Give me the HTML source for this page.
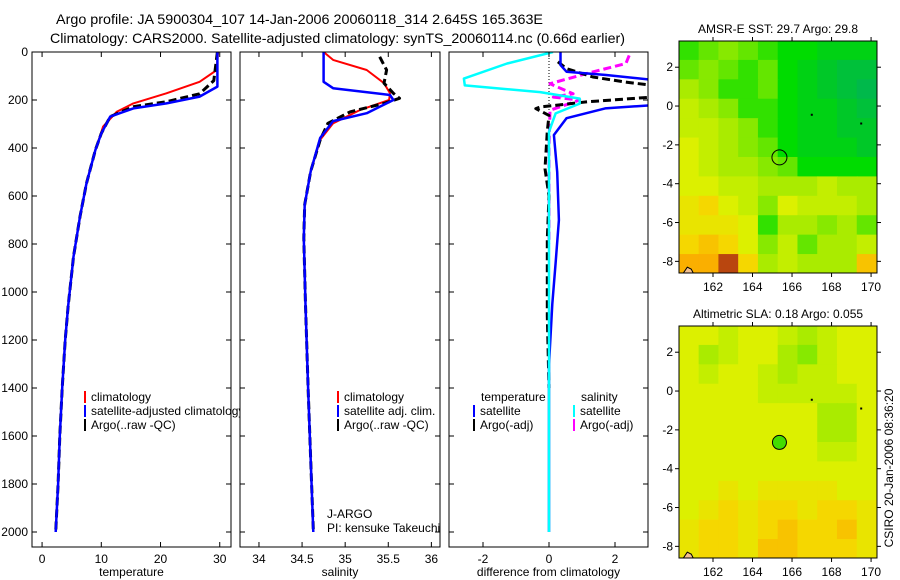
<!DOCTYPE html>
<html><head><meta charset="utf-8"><style>
body{margin:0;background:#fff;}
svg{display:block;font-family:"Liberation Sans",sans-serif;}
</style></head><body>
<svg id="fig" width="900" height="580" xmlns="http://www.w3.org/2000/svg">
<text x="56" y="24" font-size="14" textLength="487" lengthAdjust="spacingAndGlyphs">Argo profile: JA 5900304_107 14-Jan-2006 20060118_314 2.645S 165.363E</text>
<text x="50" y="43" font-size="14" textLength="575" lengthAdjust="spacingAndGlyphs">Climatology: CARS2000. Satellite-adjusted climatology: synTS_20060114.nc (0.66d earlier)</text>
<text transform="translate(893,468) rotate(-90)" font-size="12" text-anchor="middle">CSIRO 20-Jan-2006 08:36:20</text>
<g id="plots"></g>
</svg>
<script>
// ---- profile data (depth in m) ----
const tDepthClim=[0,75,124,172,214,249,311,408,547,686,853,1061,1200,1400,1600,1800,2000];
const tClim=[29.7,29.5,26.6,21,15.4,12.6,10.3,9,7.5,6.4,5.3,4.4,3.9,3.4,3.0,2.7,2.3];
const tDepthSat=[0,144,186,214,235,269,339,408,547,686,853,1061,1200,1400,1600,1800,2000];
const tSat=[29.6,29.6,26.6,21,15.4,11.5,10,9,7.5,6.4,5.3,4.4,3.9,3.4,3.0,2.7,2.3];
const tDepthArgo=[0,119,174,207,228,269,339,408,547,686,853,1061,1200,1400,1600,1800,2000];
const tArgo=[29.6,29,26.6,21,15.4,11.5,10,9,7.5,6.4,5.3,4.4,3.9,3.4,3.0,2.7,2.3];

const sDepthClim=[0,33,75,130,172,200,242,297,366,497,636,775,1053,1400,1700,2000];
const sClim=[34.75,34.86,35.25,35.45,35.52,35.51,35.17,34.86,34.71,34.6,34.53,34.52,34.54,34.57,34.6,34.63];
const sDepthSat=[0,124,151,179,200,255,288,358,497,636,775,1053,1400,1700,2000];
const sSat=[34.75,34.75,34.86,35.52,35.56,35.25,34.86,34.71,34.6,34.53,34.52,34.54,34.57,34.6,34.63];
const sDepthArgo=[20,75,130,172,193,214,249,297,366,497,636,775,1053,1400,1700,1990];
const sArgo=[35.4,35.48,35.45,35.56,35.63,35.45,35.06,34.8,34.71,34.6,34.53,34.52,34.54,34.57,34.6,34.63];

const dDepthTS=[0,54,82,96,117,221,235,276,346,500,700,880,1050,1300,2000];
const dTSat=[0.35,0.35,0.53,1.73,3.2,3.2,1.7,0.53,0.15,0.25,0.3,0.2,0.1,0,0];
const dDepthSS=[0,48,111,139,167,194,215,256,333,2000];
const dSSat=[0.12,-1.27,-2.58,-2.55,-0.27,0.93,0.93,0.2,0.0,0.0];
const dDepthTA=[41,69,104,125,140,187,208,229,236,264,330,486,600,780,1100,1400];
const dTArgo=[0.27,0.53,1.33,2.3,3.2,3.2,1.13,-0.27,-0.4,0.0,-0.05,-0.12,0,-0.05,-0.05,0];
const dDepthSA=[14,48,90,132,174,188,200,243,400,800];
const dSArgo=[2.43,2.33,1.13,0.03,0.73,0.13,0.93,0.03,0,0];

const depthTicks=[0,200,400,600,800,1000,1200,1400,1600,1800,2000];
const tempTicks=[0,10,20,30];
const salTicks=[34,34.5,35,35.5,36];
const diffTicks=[-2,0,2];

// ---- map data: rows from north (3.35) to south (-8.6), 1° columns from 160.3 ----
const mapLonTicks=[162,164,166,168,170];
const mapLatTicks=[2,0,-2,-4,-6,-8];
const sstGrid=[
[3.5,4,4.5,4,3.5,3,3,2.5,2.5,2.5],
[4,4.5,4,3.5,4,3,2.5,2,1.5,1.5],
[5,4.5,3.5,3.5,4,3,2.5,2,1.5,1],
[5.5,5,4.5,3.5,3.5,3,2.5,2.5,2,1.5],
[5.5,5.5,5,4.5,3.5,3,2.5,2.5,2,2],
[6,5.5,5,4.5,4,3,2.5,2.5,2.5,2],
[6,5.5,5,5,4.5,4,3,3,3,3],
[6,6,5.5,5.5,5,5,5,5.5,5,5],
[6.5,7,6,5.5,4.5,6,5.5,5.5,5.5,5],
[6.5,6.5,6.5,6,3.5,5,5,4.5,5,4],
[7,7.5,7,6,4.5,5.5,4,5,5,5.5],
[8,8,9.5,7,5,5.5,5,5,5,7.5]];
const slaGrid=[
[6,6,5.5,6,6,5.5,5,5.5,6,6],
[6,5,5.5,6,6,5,4.5,5.5,6,6],
[6,5.5,6,6,5.5,5,5.5,5.5,6,6],
[6,6,6,6,5.5,5.5,5.5,5.5,5.5,6],
[6,6,6,6,6,6,6,5,5,6],
[6,6,6,6,6,6,6,5,5,6],
[6,6,6,6,6,6,6,5.5,5.5,6],
[6,6,6,6,6,6,6,6,6,6],
[6,6,6.5,6,6.5,6.5,6.5,6.5,6,6],
[6,6.5,7,6.5,7,7,6.5,7,7,6.5],
[6.5,7,7,6.5,7,7.5,7,7,7.5,6.5],
[6.5,7,7,6.5,7.5,7.5,7,7,7,6.5]];
const argoLon=165.363, argoLat=-2.645;

const NS="http://www.w3.org/2000/svg";
const root=document.getElementById('plots');
function el(tag,attrs,parent){const e=document.createElementNS(NS,tag);for(const k in attrs)e.setAttribute(k,attrs[k]);(parent||root).appendChild(e);return e;}
function txt(x,y,s,anchor,size,parent){const t=el('text',{x:x,y:y,'font-size':size||12,'text-anchor':anchor||'start'},parent);t.textContent=s;return t;}

const Y0=52,Y1=547; const yD=d=>52+d*0.24;
function panel(name,x0,x1,xmin,xmax,xt,xlabel,leftLabels){
  const g=el('g',{});
  
  
  const sx=v=>x0+(v-xmin)/(xmax-xmin)*(x1-x0);
  el('rect',{x:x0,y:Y0,width:x1-x0,height:Y1-Y0,fill:'#fff',stroke:'none'},g);
  const clip=el('clipPath',{id:'c'+name},g);el('rect',{x:x0,y:Y0,width:x1-x0,height:Y1-Y0},clip);
  const inner=el('g',{'clip-path':'url(#c'+name+')'},g);
  depthTicks.forEach(d=>{
    el('line',{x1:x0,x2:x0+5,y1:yD(d),y2:yD(d),stroke:'#000'},g);
    el('line',{x1:x1-5,x2:x1,y1:yD(d),y2:yD(d),stroke:'#000'},g);
    if(leftLabels){const t=txt(28,yD(d)+4,String(d),'end',12,g);}
  });
  xt.forEach(v=>{
    el('line',{x1:sx(v),x2:sx(v),y1:Y0,y2:Y0+5,stroke:'#000'},g);
    el('line',{x1:sx(v),x2:sx(v),y1:Y1-5,y2:Y1,stroke:'#000'},g);
    const t=txt(sx(v),563,String(v),'middle',12,g);
    
    
  });
  const xl=txt((x0+x1)/2,576,xlabel,'middle',12,g);
  
  
  return {g,inner,sx,x0,x1};
}
function line(p,depths,vals,color,w,dash,name){
  const pts=depths.map((d,i)=>p.sx(vals[i]).toFixed(1)+','+yD(d).toFixed(1)).join(' ');
  const l=el('polyline',{points:pts,fill:'none',stroke:color,'stroke-width':w,'stroke-dasharray':dash||'none','stroke-linejoin':'round'},p.inner);
  
  
}
function legend(p,x,y,color,label){
  el('rect',{x:x,y:y-6,width:2,height:12,fill:color},p.g);
  const t=txt(x+7,y+4,label,'start',12,p.g);
  
  
}
function frame(p){el('rect',{x:p.x0,y:Y0,width:p.x1-p.x0,height:Y1-Y0,fill:'none',stroke:'#000'},p.g);}

// Panel 1 temperature
const p1=panel('temperature-panel',32,231,-1.7,31.9,tempTicks,'temperature',true);
line(p1,tDepthClim,tClim,'#f00',2,null,'temp-climatology-line');
line(p1,tDepthArgo,tArgo,'#000',3,'8,4','temp-argo-line');
line(p1,tDepthSat,tSat,'#00f',2.5,null,'temp-satellite-line');
legend(p1,84,397,'#f00','climatology');
legend(p1,84,411,'#00f','satellite-adjusted climatology');
legend(p1,84,425,'#000','Argo(..raw -QC)');
frame(p1);
// Panel 2 salinity
const p2=panel('salinity-panel',240,440,33.78,36.1,salTicks,'salinity',false);
line(p2,sDepthClim,sClim,'#f00',2,null,'sal-climatology-line');
line(p2,sDepthArgo,sArgo,'#000',3,'8,4','sal-argo-line');
line(p2,sDepthSat,sSat,'#00f',2.5,null,'sal-satellite-line');
legend(p2,337,397,'#f00','climatology');
legend(p2,337,411,'#00f','satellite adj. clim.');
legend(p2,337,425,'#000','Argo(..raw -QC)');
let t=txt(327,518,'J-ARGO','start',12,p2.g);
t=txt(327,532,'PI: kensuke Takeuchi','start',12,p2.g);
frame(p2);
// Panel 3 differences
const p3=panel('difference-panel',449,648,-3.03,3.0,diffTicks,'difference from climatology',false);
el('line',{x1:p3.sx(0),x2:p3.sx(0),y1:Y0,y2:Y0+80,stroke:'#000','stroke-dasharray':'1,2'},p3.inner);
line(p3,dDepthSA,dSArgo,'#f0f',3,'8,4','sal-argo-diff-line');
line(p3,dDepthTA,dTArgo,'#000',3,'8,4','temp-argo-diff-line');
line(p3,dDepthTS,dTSat,'#00f',2.5,null,'temp-satellite-diff-line');
line(p3,dDepthSS,dSSat,'#0ff',2.5,null,'sal-satellite-diff-line');
t=txt(481,401,'temperature','start',12,p3.g);
t=txt(581,401,'salinity','start',12,p3.g);
legend(p3,473,411,'#00f','satellite');
legend(p3,473,425,'#000','Argo(-adj)');
legend(p3,573,411,'#0ff','satellite');
legend(p3,573,425,'#f0f','Argo(-adj)');
frame(p3);

// ---- maps ----
const cmapStops=[[0,[0,170,110]],[2,[0,200,40]],[3,[0,220,0]],[4,[100,230,0]],[5,[170,235,0]],[6,[220,240,0]],[7,[245,215,0]],[8,[250,175,0]],[9,[220,100,10]],[10,[150,40,20]]];
function cmap(v){for(let i=1;i<cmapStops.length;i++){const [a,ca]=cmapStops[i-1],[b,cb]=cmapStops[i];if(v<=b){const f=(v-a)/(b-a);return 'rgb('+ca.map((c,j)=>Math.round(c+(cb[j]-c)*f)).join(',')+')';}}return 'rgb(150,40,20)';}
function map(name,top,bottom,grid,title,filled){
  const g=el('g',{});
  
  
  const x0=679,x1=877,lonMin=160.28,lonMax=170.3,latMax=3.35,latMin=-8.6;
  const sx=v=>x0+(v-lonMin)/(lonMax-lonMin)*(x1-x0);
  const sy=v=>top+(latMax-v)/(latMax-latMin)*(bottom-top);
  const clip=el('clipPath',{id:'c'+name},g);el('rect',{x:x0,y:top,width:x1-x0,height:bottom-top},clip);
  const cells=el('g',{'clip-path':'url(#c'+name+')'},g);
  grid.forEach((row,r)=>row.forEach((v,c)=>{
    const la=latMax-r, lo=160.3+c;
    const rc=el('rect',{x:sx(lo)-0.5,y:sy(la)-0.5,width:sx(lo+1)-sx(lo)+1,height:sy(la-1)-sy(la)+1,fill:cmap(v)},cells);
    
    
  }));
  el('path',{d:`M${sx(160.5)},${sy(-8.6)} L${sx(160.7)},${sy(-8.3)} L${sx(160.9)},${sy(-8.4)} L${sx(161)},${sy(-8.6)} Z`,fill:'#f4c090',stroke:'#000'},cells);
  el('rect',{x:sx(169.5)-1,y:sy(-0.9)-1,width:2,height:2,fill:'#000'},cells);
  el('rect',{x:sx(167)-1,y:sy(-0.45)-1,width:2,height:2,fill:'#000'},cells);
  const m=el('circle',{cx:sx(argoLon),cy:sy(argoLat),r:filled?7:7.5,fill:filled?'#44dd00':'none',stroke:'#000','stroke-width':1},g);
  
  
  el('rect',{x:x0,y:top,width:x1-x0,height:bottom-top,fill:'none',stroke:'#000'},g);
  mapLonTicks.forEach(v=>{
    el('line',{x1:sx(v),x2:sx(v),y1:top-4,y2:top,stroke:'#000'},g);
    el('line',{x1:sx(v),x2:sx(v),y1:bottom,y2:bottom+4,stroke:'#000'},g);
    const tl=txt(sx(v),bottom+18,String(v),'middle',12,g);
    
    
  });
  mapLatTicks.forEach(v=>{
    el('line',{x1:x0-4,x2:x0,y1:sy(v),y2:sy(v),stroke:'#000'},g);
    el('line',{x1:x1,x2:x1+4,y1:sy(v),y2:sy(v),stroke:'#000'},g);
    const tl=txt(673,sy(v)+4,String(v),'end',12,g);
    
    
  });
  const tt=txt(778,top-8,title,'middle',12,g);
  
  
}
map('sst-map',41,273,sstGrid,'AMSR-E SST: 29.7 Argo: 29.8',false);
map('sla-map',326,558,slaGrid,'Altimetric SLA: 0.18 Argo: 0.055',true);
</script>
</body></html>
